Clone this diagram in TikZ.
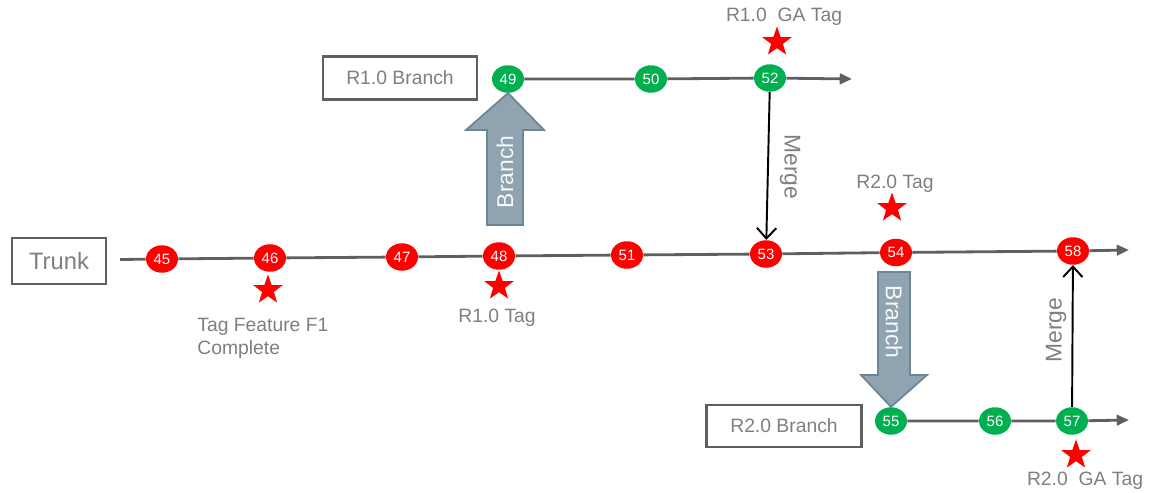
\documentclass[tikz,border=0pt]{standalone}
\usepackage{fontspec}
\setmainfont{Liberation Sans}
\usetikzlibrary{shapes.geometric, arrows.meta, positioning}
\definecolor{myred}{HTML}{FF0000}
\definecolor{mygreen}{HTML}{00B050}
\definecolor{mytext}{HTML}{7F7F7F}
\definecolor{mylinegray}{HTML}{5F5F5F}
\definecolor{myarrowfill}{HTML}{8FA3B1}
\definecolor{myarrowdraw}{HTML}{6D8594}
\tikzset{
	commitnode/.style={
			ellipse,
			fill=myred,
			text=white,
			minimum width=0.64cm,
			minimum height=0.55cm,
			inner sep=0pt,
			font=\fontsize{8.5}{9}\selectfont
		},
	greennode/.style={
			commitnode,
			fill=mygreen
		},
	tagstar/.style={
			star,
			star points=5,
			star point ratio=2.5,
			fill=myred,
			minimum size=0.62cm,
			inner sep=0pt
		},
	labelbox/.style={
			draw=mylinegray,
			line width=1.5pt,
			fill=white,
			text=mytext,
			font=\fontsize{11}{12}\selectfont
		},
	branchline/.style={
			draw=mylinegray,
			line width=1.6pt,
			-{Triangle[length=7pt,width=6pt]}
		},
	mergearrow/.style={
			draw=black,
			line width=1.1pt,
			-{Straight Barb[length=6pt,width=11pt]}
		},
	bigarrow/.style={
			fill=myarrowfill,
			draw=myarrowdraw,
			line width=1pt
		}
}
\tikzset{
	graytext/.style={text=mytext, font=\fontsize{11}{13}\selectfont}
}
\tikzset{
	arrowtext/.style={text=white!92!myarrowfill, font=\fontsize{13}{14}\selectfont}
}

\begin{document}
\begin{tikzpicture}[x=0.02cm, y=-0.02cm]
        \useasboundingbox (0,0) rectangle (1159,493);

        % boxes
        \node[labelbox, minimum width=1.88cm, minimum height=0.92cm, font=\fontsize{13.5}{14}\selectfont] at (59,261) (trunk) {Trunk};
        \node[labelbox, minimum width=3.08cm, minimum height=0.86cm] at (400,78) (r1box) {R1.0 Branch};
        \node[labelbox, minimum width=3.1cm, minimum height=0.84cm] at (784,426) (r2box) {R2.0 Branch};

        % trunk
        \coordinate (trunkstart) at (120,259.5);
        \coordinate (trunkend) at (1129,250);
        \node[commitnode] at (162,259) (n45) {45};
        \node[commitnode] at (270,258) (n46) {46};
        \node[commitnode] at (402,257) (n47) {47};
        \node[commitnode] at (499,256) (n48) {48};
        \node[commitnode] at (627,255) (n51) {51};
        \node[commitnode] at (766,254) (n53) {53};
        \node[commitnode] at (896,252.5) (n54) {54};
        \node[commitnode] at (1073,251) (n58) {58};
        \draw[branchline] (trunkstart) -- (n45) -- (n46) -- (n47) -- (n48) -- (n51)
                -- (n53) -- (n54) -- (n58) -- (trunkend);

        % R1.0 branch
        \coordinate (r1end) at (852,79);
        \node[greennode] at (508,79) (n49) {49};
        \node[greennode] at (651,79) (n50) {50};
        \node[greennode] at (770,78) (n52) {52};
        \draw[branchline] (n49) -- (n50) -- (n52) -- (r1end);

        % R2.0 branch
        \coordinate (r2end) at (1129,420);
        \node[greennode] at (891,421) (n55) {55};
        \node[greennode] at (995,421) (n56) {56};
        \node[greennode] at (1072,421) (n57) {57};
        \draw[branchline] (n55) -- (n56) -- (n57) -- (r2end);

        % branch arrows
        \draw[bigarrow] (487,225) -- (487,130) -- (466,130) -- (n49.south)
                -- (544,130) -- (523,130) -- (523,225) -- cycle;
        \node[arrowtext, rotate=90] at (505,172) (br1) {Branch};
        \draw[bigarrow] (878,272) -- (878,375) -- (861,375) -- (n55.north)
                -- (927,375) -- (910,375) -- (910,272) -- cycle;
        \node[arrowtext, rotate=-90] at (894,322) (br2) {Branch};

        % merges
        \draw[mergearrow] (n52) -- (n53);
        \node[text=mytext, font=\fontsize{13}{14}\selectfont, rotate=-90] at (790,167) (m1) {Merge};
        \draw[mergearrow] (n57) -- (n58);
        \node[text=mytext, font=\fontsize{13}{14}\selectfont, rotate=90] at (1056,330) (m2) {Merge};

        % tags
        \node[tagstar] at (268,290) (s46) {};
        \node[tagstar] at (499,286) (s48) {};
        \node[tagstar] at (777,42) (s52) {};
        \node[tagstar] at (892,208) (s54) {};
        \node[tagstar] at (1076,455) (s57) {};

        \node[graytext, align=left, anchor=north west, inner sep=0pt] at (197,318) (t46) {Tag Feature F1\\Complete};
        \node[graytext] at (497,318) (t48) {R1.0 Tag};
        \node[graytext] at (784,17) (t52) {R1.0 \ GA Tag};
        \node[graytext] at (895,184) (t54) {R2.0 Tag};
        \node[graytext] at (1085,481) (t57) {R2.0 \ GA Tag};
      \end{tikzpicture}
\end{document}
